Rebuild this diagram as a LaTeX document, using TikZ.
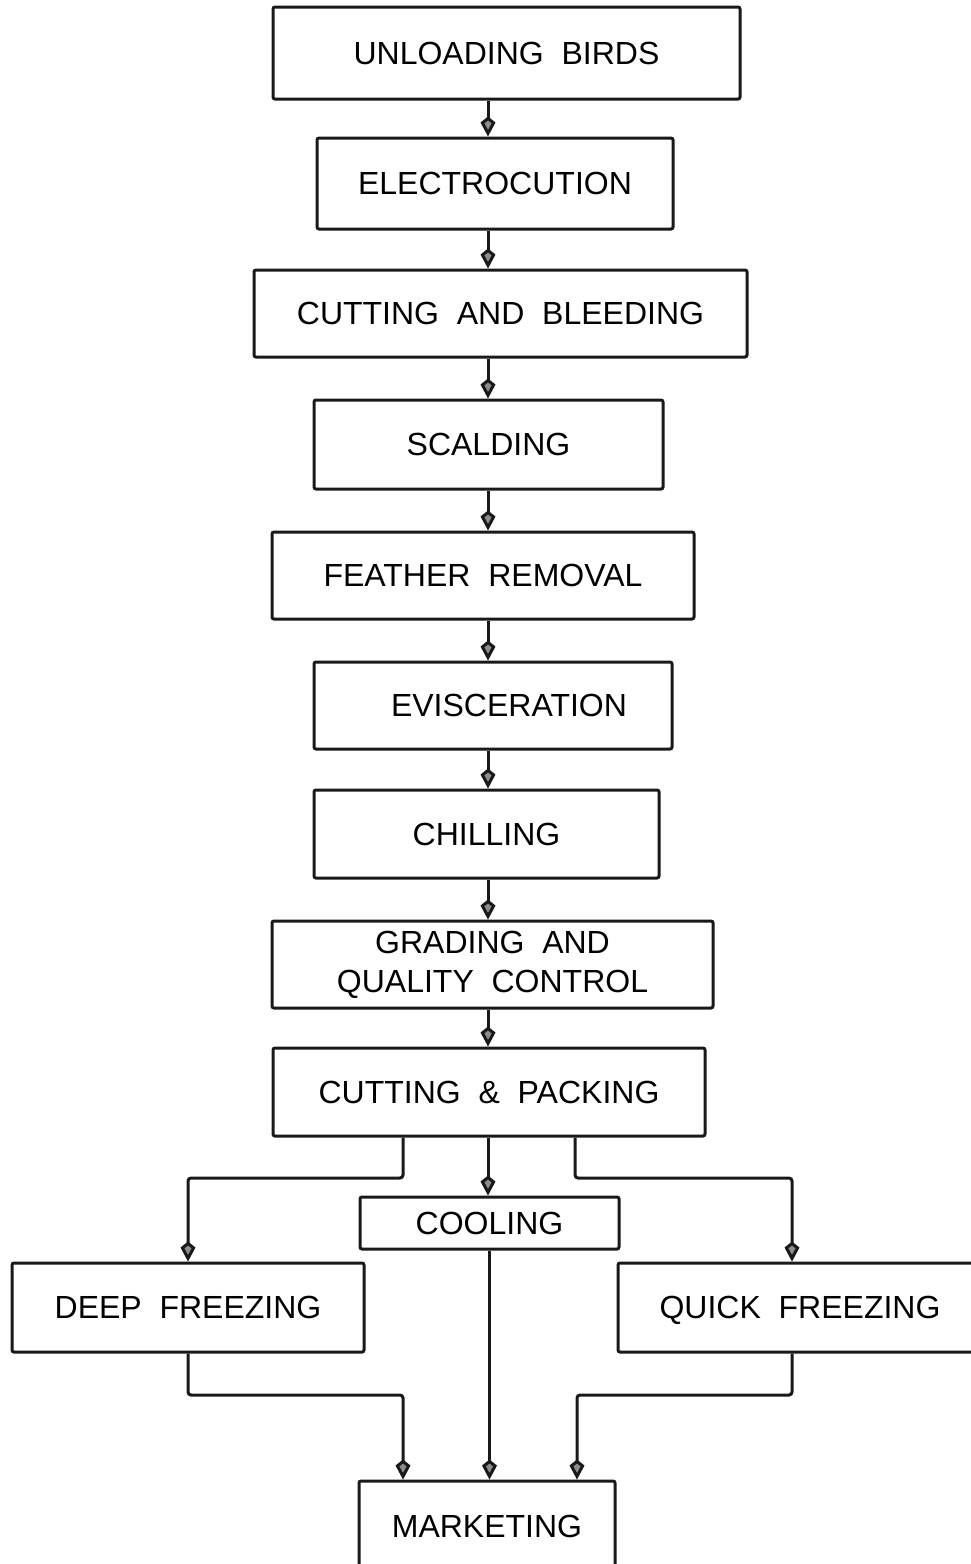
\documentclass[tikz,border=0pt]{standalone}
\usepackage{fontspec}
\setmainfont{Liberation Sans}[WordSpace=2.0]
\usepackage{tikz}
\usetikzlibrary{arrows.meta,positioning}

\begin{document}
\begin{tikzpicture}[
    x=0.5pt, y=-0.5pt,
    stage/.style={rectangle, draw=black!90, line width=1.5pt, fill=white, inner sep=0pt,
        font=\fontsize{16}{21.5}\selectfont, align=center, rounded corners=1pt},
    arrow/.style={-{Kite[length=10pt, width=7.5pt, inset=3pt, fill=black!45]}, line width=1.5pt, draw=black!90, rounded corners=1.5pt}
]
    \useasboundingbox (0,0) rectangle (970,1564);

    % --- LINEA PRINCIPALE ---
    \coordinate (spine) at (488,0);
    \node[stage, minimum width=233.5pt, minimum height=46pt] (unload) at (506.5,53) {UNLOADING BIRDS};
    \node[stage, minimum width=178pt, minimum height=45.5pt] (electro) at (495,183.5) {ELECTROCUTION};
    \node[stage, minimum width=246.5pt, minimum height=43.5pt] (cutbleed) at (500.5,313.5) {CUTTING AND BLEEDING};
    \node[stage, minimum width=174.5pt, minimum height=44.5pt] (scald) at (488.5,444.5) {SCALDING};
    \node[stage, minimum width=211pt, minimum height=43.5pt] (feather) at (483,575.5) {FEATHER REMOVAL};
    \node[stage, minimum width=179pt, minimum height=43.5pt] (evisc) at (493,705.5) {\hspace{16pt}EVISCERATION};
    \node[stage, minimum width=172.5pt, minimum height=44pt] (chill) at (486.5,834) {CHILLING};
    \node[stage, minimum width=220.5pt, minimum height=43.5pt] (grading) at (492.5,964.5) {\raisebox{-2pt}{GRADING AND}\\QUALITY CONTROL};
    \node[stage, minimum width=216pt, minimum height=44pt] (cutpack) at (489,1092) {CUTTING \& PACKING};

    \foreach \a/\b in {unload/electro, electro/cutbleed, cutbleed/scald, scald/feather,
        feather/evisc, evisc/chill, chill/grading, grading/cutpack} {
        \draw[arrow] (\a.south -| spine) -- (\b.north -| spine);
    }

    % --- CONSERVAZIONE ---
    \node[stage, minimum width=129.5pt, minimum height=26pt] (cooling) at (489.5,1223) {COOLING};
    \node[stage, minimum width=176pt, minimum height=44.5pt] (deep) at (188,1307.5) {DEEP FREEZING};
    \node[stage, minimum width=182pt, minimum height=44.5pt, text depth=0pt] (quick) at (800,1307.5) {QUICK FREEZING};

    \coordinate (lsplit) at (403,1178);
    \coordinate (rsplit) at (575,1178);
    \coordinate (qdrop) at (792,1178);
    \draw[arrow] (cutpack.south -| lsplit) -- (lsplit) -| (deep.north);
    \draw[arrow] (cutpack.south -| spine) -- (cooling.north -| spine);
    \draw[arrow] (cutpack.south -| rsplit) -- (rsplit) -- (qdrop) -- (quick.north -| qdrop);

    % --- MERCATO ---
    \node[stage, minimum width=128pt, minimum height=45pt] (market) at (487,1526) {MARKETING};

    \coordinate (ljoin) at (403,1395);
    \coordinate (rjoin) at (577,1395);
    \draw[arrow] (deep.south) |- (ljoin) -- (market.north -| ljoin);
    \draw[arrow] (cooling.south) -- (cooling.south |- market.north);
    \draw[arrow] (quick.south -| qdrop) |- (rjoin) -- (market.north -| rjoin);

\end{tikzpicture}
\end{document}
